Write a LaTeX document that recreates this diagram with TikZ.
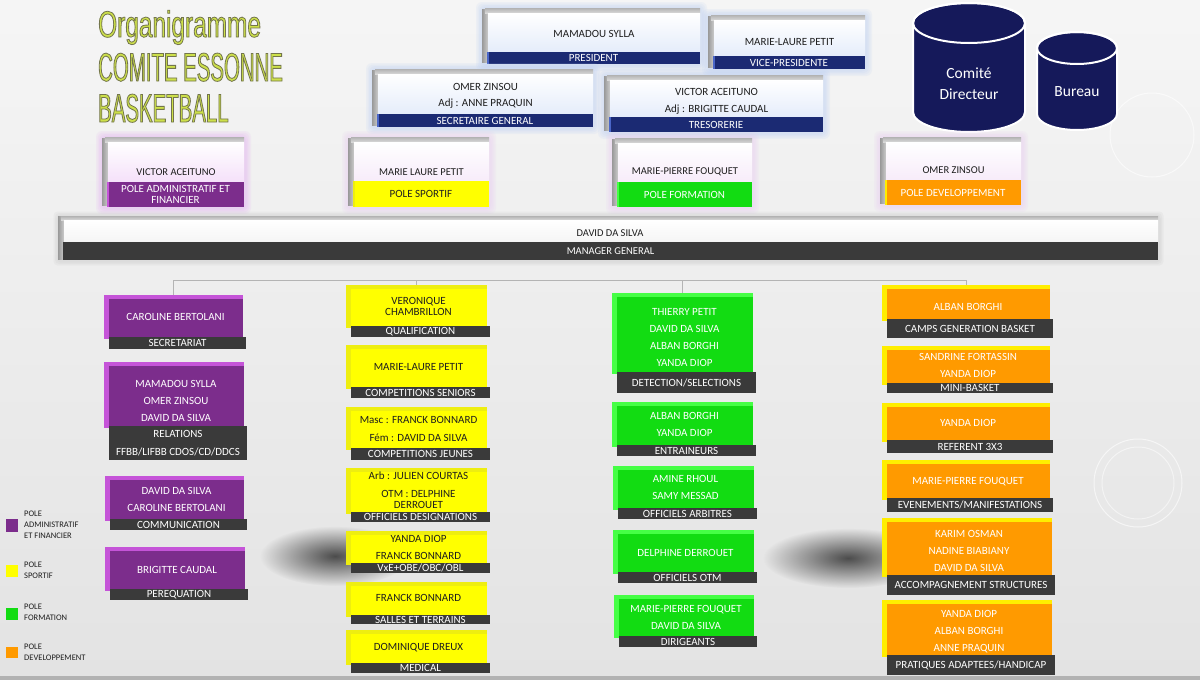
\documentclass[tikz,border=0pt]{standalone}
\usepackage{fontspec}
\setmainfont{Carlito}
\newfontfamily\ttlA[FakeStretch=0.66]{Liberation Sans}
\newfontfamily\ttlB[FakeStretch=0.51]{Liberation Sans}
\usetikzlibrary{fit,fadings}
\tikzfading[name=blobfade, inner color=transparent!0, outer color=transparent!100]
\definecolor{bg}{HTML}{EFEFEF}
\definecolor{cyl}{HTML}{15195A}
\definecolor{navF}{HTML}{1B2A73}
\definecolor{navB}{HTML}{4A66C8}
\definecolor{navG}{HTML}{B4CAF2}
\definecolor{navT}{HTML}{FFFFFF}
\definecolor{purF}{HTML}{7C2D8C}
\definecolor{purB}{HTML}{C554D8}
\definecolor{purG}{HTML}{E2A8F0}
\definecolor{purT}{HTML}{FFFFFF}
\definecolor{yelF}{HTML}{FFFF00}
\definecolor{yelB}{HTML}{EEEE10}
\definecolor{yelG}{HTML}{E8C8F0}
\definecolor{yelT}{HTML}{202020}
\definecolor{grnF}{HTML}{12DC12}
\definecolor{grnB}{HTML}{45FF45}
\definecolor{grnG}{HTML}{E8C8F0}
\definecolor{grnT}{HTML}{FFFFFF}
\definecolor{orgF}{HTML}{FF9A00}
\definecolor{orgB}{HTML}{FFEE00}
\definecolor{orgG}{HTML}{E8C8F0}
\definecolor{orgT}{HTML}{FFFFFF}
\definecolor{barG}{HTML}{3A3A3A}
\definecolor{lineG}{HTML}{B4B4B4}
\definecolor{ttlF}{HTML}{CDE04A}
\definecolor{txtK}{HTML}{1E1E1E}
\newcommand\olstart{\special{pdf:literal direct 2 Tr 0.8 w 0.45 0.46 0.30 RG}}
\newcommand\olend{\special{pdf:literal direct 0 Tr}}
% child box: id, x1, y1, x2, y2, bartop, colour, names y, label
\newcommand\cbox[9]{%
  \fill[#7B] (#2,#3) rectangle (#4,#6+2);
  \fill[#7F] (#2+5,#3+4) rectangle (#4,#6+2);
  \node[barbox, fit={(#2+5,#6) (#4+3,#5)}] (#1b) {};
  \node[lbl] (#1l) at (#1b.center) {#9};
  \coordinate (#1c) at ({(#2+#4)/2+2},#8);
  \coordinate (#1t) at ({(#2+#4)/2},#3);
}
% head box: id, x1, y1, x2, y2, labeltop, colour, name y, label
\newcommand\pbox[9]{%
  \foreach \k in {1,2,3,4}{\fill[#7G, opacity=.13, rounded corners=6pt] (#2-1.5*\k,#3-1.5*\k) rectangle (#4+1.5*\k+1,#5+1.5*\k+1);}
  \shade[left color=gray!80, right color=gray!40] (#2,#3+1) rectangle (#2+6,#5-2);
  \shade[top color=gray!60, bottom color=gray!30] (#2+3,#3) rectangle (#4,#3+5);
  \shade[top color=white, bottom color=#7G!35!white] (#2+6,#3+5) rectangle (#4,#6);
  \node[fill=#7F, inner sep=0pt, outer sep=0pt, fit={(#2+5,#6) (#4,#5)}] (#1b) {};
  \fill[#7B] (#2+5,#6) rectangle (#2+7,#5);
  \node[lbl, text=#7T] (#1l) at (#1b.center) {#9};
  \coordinate (#1c) at ({(#2+#4)/2+3},#8);
}
\tikzset{
  nm/.style={font=\fontsize{11}{17}\selectfont, align=center, inner sep=0pt},
  nmW/.style={nm, text=white},
  nmK/.style={nm, text=txtK},
  hn/.style={font=\fontsize{10.5}{17}\selectfont, align=center, inner sep=0pt, text=txtK},
  lbl/.style={font=\fontsize{11}{18}\selectfont, align=center, inner sep=0pt, text=white},
  barbox/.style={fill=barG, draw=none, inner sep=0pt, outer sep=0pt},
  conn/.style={draw=lineG, line width=0.8pt},
  leg/.style={font=\fontsize{8.5}{11}\selectfont, align=left, inner sep=0pt, anchor=west, text=txtK},
  cyltxt/.style={font=\fontsize{15.5}{21}\selectfont, align=center, text=white, inner sep=0pt},
}
\begin{document}
\begin{tikzpicture}[x=1pt, y=-1pt]
\useasboundingbox (0,0) rectangle (1200,680);
% background
\shade[top color=bg!60!white, bottom color=bg!95!black] (0,0) rectangle (1200,676);
\fill[gray!60] (0,676) rectangle (1200,680);
\draw[white, opacity=.6, line width=1pt] (1152,135) circle[radius=42];
\draw[white, opacity=.6, line width=1pt] (1138,483) circle[radius=44];
\draw[white, opacity=.5, line width=1pt] (1138,483) circle[radius=36];
\fill[black!70, path fading=blobfade] (335,556) ellipse[x radius=75, y radius=30];
\fill[black!70, path fading=blobfade] (848,558) ellipse[x radius=85, y radius=30];

% title
\node[anchor=base west, inner sep=0pt, text=ttlF, font=\ttlA\fontsize{37}{37}\selectfont] (t1) at (98,37) {\olstart Organigramme\olend};
\node[anchor=base west, inner sep=0pt, text=ttlF, font=\ttlB\fontsize{40}{40}\selectfont] (t2) at (98,81) {\olstart COMITE ESSONNE\olend};
\node[anchor=base west, inner sep=0pt, text=ttlF, font=\ttlB\fontsize{40}{40}\selectfont] (t3) at (98,122) {\olstart BASKETBALL\olend};

% cylinders
\fill[cyl, draw=white, line width=2pt] (913,23) -- (913,112) arc[start angle=180, end angle=0, x radius=56, y radius=20] -- (1025,23) arc[start angle=0, end angle=-180, x radius=56, y radius=20] -- cycle;
\draw[white, line width=2pt] (969,23) ellipse[x radius=56, y radius=20];
\node[cyltxt] (cdir) at (969,84) {Comité\\Directeur};
\fill[cyl, draw=white, line width=2pt] (1037,48) -- (1037,114) arc[start angle=180, end angle=0, x radius=40, y radius=16] -- (1117,48) arc[start angle=0, end angle=-180, x radius=40, y radius=16] -- cycle;
\draw[white, line width=2pt] (1077,48) ellipse[x radius=40, y radius=16];
\node[cyltxt] (bur) at (1077,92) {Bureau};

% top boxes
\pbox{pres}{482}{8}{700}{64}{52}{nav}{34}{PRESIDENT}
\node[nmK] (presn) at (presc) {MAMADOU SYLLA};
\pbox{vice}{708}{15}{865}{69}{56}{nav}{42}{VICE-PRESIDENTE}
\node[nmK] (vicen) at (vicec) {MARIE-LAURE PETIT};
\pbox{sec}{372}{69}{593}{127}{114}{nav}{96}{SECRETAIRE GENERAL}
\node[nmK] (secn) at (secc) {OMER ZINSOU\\[-1pt]Adj : ANNE PRAQUIN};
\pbox{tre}{604}{75}{823}{132}{117}{nav}{101.5}{TRESORERIE}
\node[nmK] (tren) at (trec) {VICTOR ACEITUNO\\Adj : BRIGITTE CAUDAL};

% pole heads
\pbox{adm}{102}{137}{244}{207}{182}{pur}{172}{POLE ADMINISTRATIF ET\\[-7pt]FINANCIER}
\node[hn] (admn) at (admc) {VICTOR ACEITUNO};
\pbox{spo}{348}{137}{489}{207}{181}{yel}{172}{POLE SPORTIF}
\node[hn] (spon) at (spoc) {MARIE LAURE PETIT};
\pbox{for}{612}{138}{752}{207}{182}{grn}{172}{POLE FORMATION}
\node[hn] (forn) at (forc) {MARIE-PIERRE FOUQUET};
\pbox{dev}{880}{137}{1021}{205}{180}{org}{170}{POLE DEVELOPPEMENT}
\node[hn] (devn) at (devc) {OMER ZINSOU};

% manager general
\foreach \k in {1,2,3}{\fill[gray!60, opacity=.1, rounded corners=4pt] (58-1.5*\k,216-1.5*\k) rectangle (1158+1.5*\k+1,260+1.5*\k+1);}
\shade[left color=gray!80, right color=gray!40] (58,216) rectangle (64,259);
\shade[top color=gray!60, bottom color=gray!30] (61,216) rectangle (1158,220);
\shade[top color=white, bottom color=gray!8] (64,220) rectangle (1158,242);
\node[barbox, fit={(63,242) (1158,260)}] (mgrb) {};
\node[lbl, font=\fontsize{10.5}{17}\selectfont] (mgrl) at (mgrb.center) {MANAGER GENERAL};
\node[hn] (mgrn) at (610,233) {DAVID DA SILVA};

% column 1 : administratif
\cbox{car}{104}{295}{243}{349}{337}{pur}{317}{SECRETARIAT}
\node[nmW] (carn) at (carc) {CAROLINE BERTOLANI};
\cbox{rel}{104}{362}{244}{460}{426}{pur}{401}{RELATIONS\\FFBB/LIFBB CDOS/CD/DDCS}
\node[nmW] (reln) at (relc) {MAMADOU SYLLA\\OMER ZINSOU\\DAVID DA SILVA};
\cbox{com}{105}{476}{244}{530}{519}{pur}{499}{COMMUNICATION}
\node[nmW] (comn) at (comc) {DAVID DA SILVA\\CAROLINE BERTOLANI};
\cbox{per}{105}{547}{245}{600}{589}{pur}{570}{PEREQUATION}
\node[nmW] (pern) at (perc) {BRIGITTE CAUDAL};

% column 2 : sportif
\cbox{ver}{346}{285}{487}{337}{326}{yel}{306.5}{QUALIFICATION}
\node[nmK] (vern) at (verc) {VERONIQUE\\[-6pt]CHAMBRILLON};
\cbox{cse}{346}{345}{487}{398}{387}{yel}{367}{COMPETITIONS SENIORS}
\node[nmK] (csen) at (csec) {MARIE-LAURE PETIT};
\cbox{cje}{346}{407}{487}{460}{448}{yel}{429}{COMPETITIONS JEUNES}
\node[nmK] (cjen) at (cjec) {Masc : FRANCK BONNARD\\[1pt]Fém : DAVID DA SILVA};
\cbox{ode}{346}{468}{487}{522}{512}{yel}{490}{OFFICIELS DESIGNATIONS}
\node[nmK] (oden) at (odec) {Arb : JULIEN COURTAS\\[1pt]OTM : DELPHINE\\[-6pt]DERROUET};
\cbox{vxe}{346}{531}{487}{573}{563}{yel}{547.5}{VxE+OBE/OBC/OBL}
\node[nmK] (vxen) at (vxec) {YANDA DIOP\\FRANCK BONNARD};
\cbox{sal}{346}{582}{487}{624}{615}{yel}{598}{SALLES ET TERRAINS}
\node[nmK] (saln) at (salc) {FRANCK BONNARD};
\cbox{med}{346}{630}{487}{673}{663}{yel}{648}{MEDICAL}
\node[nmK] (medn) at (medc) {DOMINIQUE DREUX};

% column 3 : formation
\cbox{det}{612}{293}{753}{393}{372}{grn}{338}{DETECTION/SELECTIONS}
\node[nmW] (detn) at (detc) {THIERRY PETIT\\DAVID DA SILVA\\ALBAN BORGHI\\YANDA DIOP};
\cbox{ent}{612}{402}{753}{456}{445}{grn}{424.5}{ENTRAINEURS}
\node[nmW] (entn) at (entc) {ALBAN BORGHI\\YANDA DIOP};
\cbox{oar}{613}{466}{754}{519}{508}{grn}{487.5}{OFFICIELS ARBITRES}
\node[nmW] (oarn) at (oarc) {AMINE RHOUL\\SAMY MESSAD};
\cbox{otm}{613}{530}{754}{583}{572}{grn}{553}{OFFICIELS OTM}
\node[nmW] (otmn) at (otmc) {DELPHINE DERROUET};
\cbox{dir}{614}{595}{754}{647}{636}{grn}{617}{DIRIGEANTS}
\node[nmW] (dirn) at (dirc) {MARIE-PIERRE FOUQUET\\DAVID DA SILVA};

% column 4 : developpement
\cbox{cgb}{882}{285}{1050}{338}{319}{org}{307}{CAMPS GENERATION BASKET}
\node[nmW] (cgbn) at (cgbc) {ALBAN BORGHI};
\cbox{mbk}{882}{346}{1050}{393}{383}{org}{365.5}{MINI-BASKET}
\node[nmW] (mbkn) at (mbkc) {SANDRINE FORTASSIN\\YANDA DIOP};
\cbox{r3x}{882}{403}{1050}{453}{440}{org}{423}{REFERENT 3X3}
\node[nmW] (r3xn) at (r3xc) {YANDA DIOP};
\cbox{eve}{882}{460}{1050}{512}{498}{org}{482}{EVENEMENTS/MANIFESTATIONS}
\node[nmW] (even) at (evec) {MARIE-PIERRE FOUQUET};
\cbox{acc}{882}{518}{1052}{595}{575}{org}{551}{ACCOMPAGNEMENT STRUCTURES}
\node[nmW] (accn) at (accc) {KARIM OSMAN\\NADINE BIABIANY\\DAVID DA SILVA};
\cbox{pra}{882}{600}{1052}{675}{655}{org}{632}{PRATIQUES ADAPTEES/HANDICAP}
\node[nmW] (pran) at (prac) {YANDA DIOP\\ALBAN BORGHI\\ANNE PRAQUIN};

% connectors
\coordinate (bus) at (0,280);
\draw[conn] (cart) -- (cart |- bus) -- (cgbt |- bus) -- (cgbt);
\draw[conn] (vert) -- (vert |- bus);
\draw[conn] (dett) -- (dett |- bus);

% legend
\fill[purF] (6,519) rectangle (18,532);
\node[leg] (lg1) at (24,525) {POLE\\ADMINISTRATIF\\ET FINANCIER};
\fill[yelF] (6,565) rectangle (18,577);
\node[leg] (lg2) at (24,570.5) {POLE\\SPORTIF};
\fill[grnF] (6,608) rectangle (18,620);
\node[leg] (lg3) at (24,612.5) {POLE\\FORMATION};
\fill[orgF] (6,647) rectangle (18,658);
\node[leg] (lg4) at (24,652.5) {POLE\\DEVELOPPEMENT};
\end{tikzpicture}
\end{document}
